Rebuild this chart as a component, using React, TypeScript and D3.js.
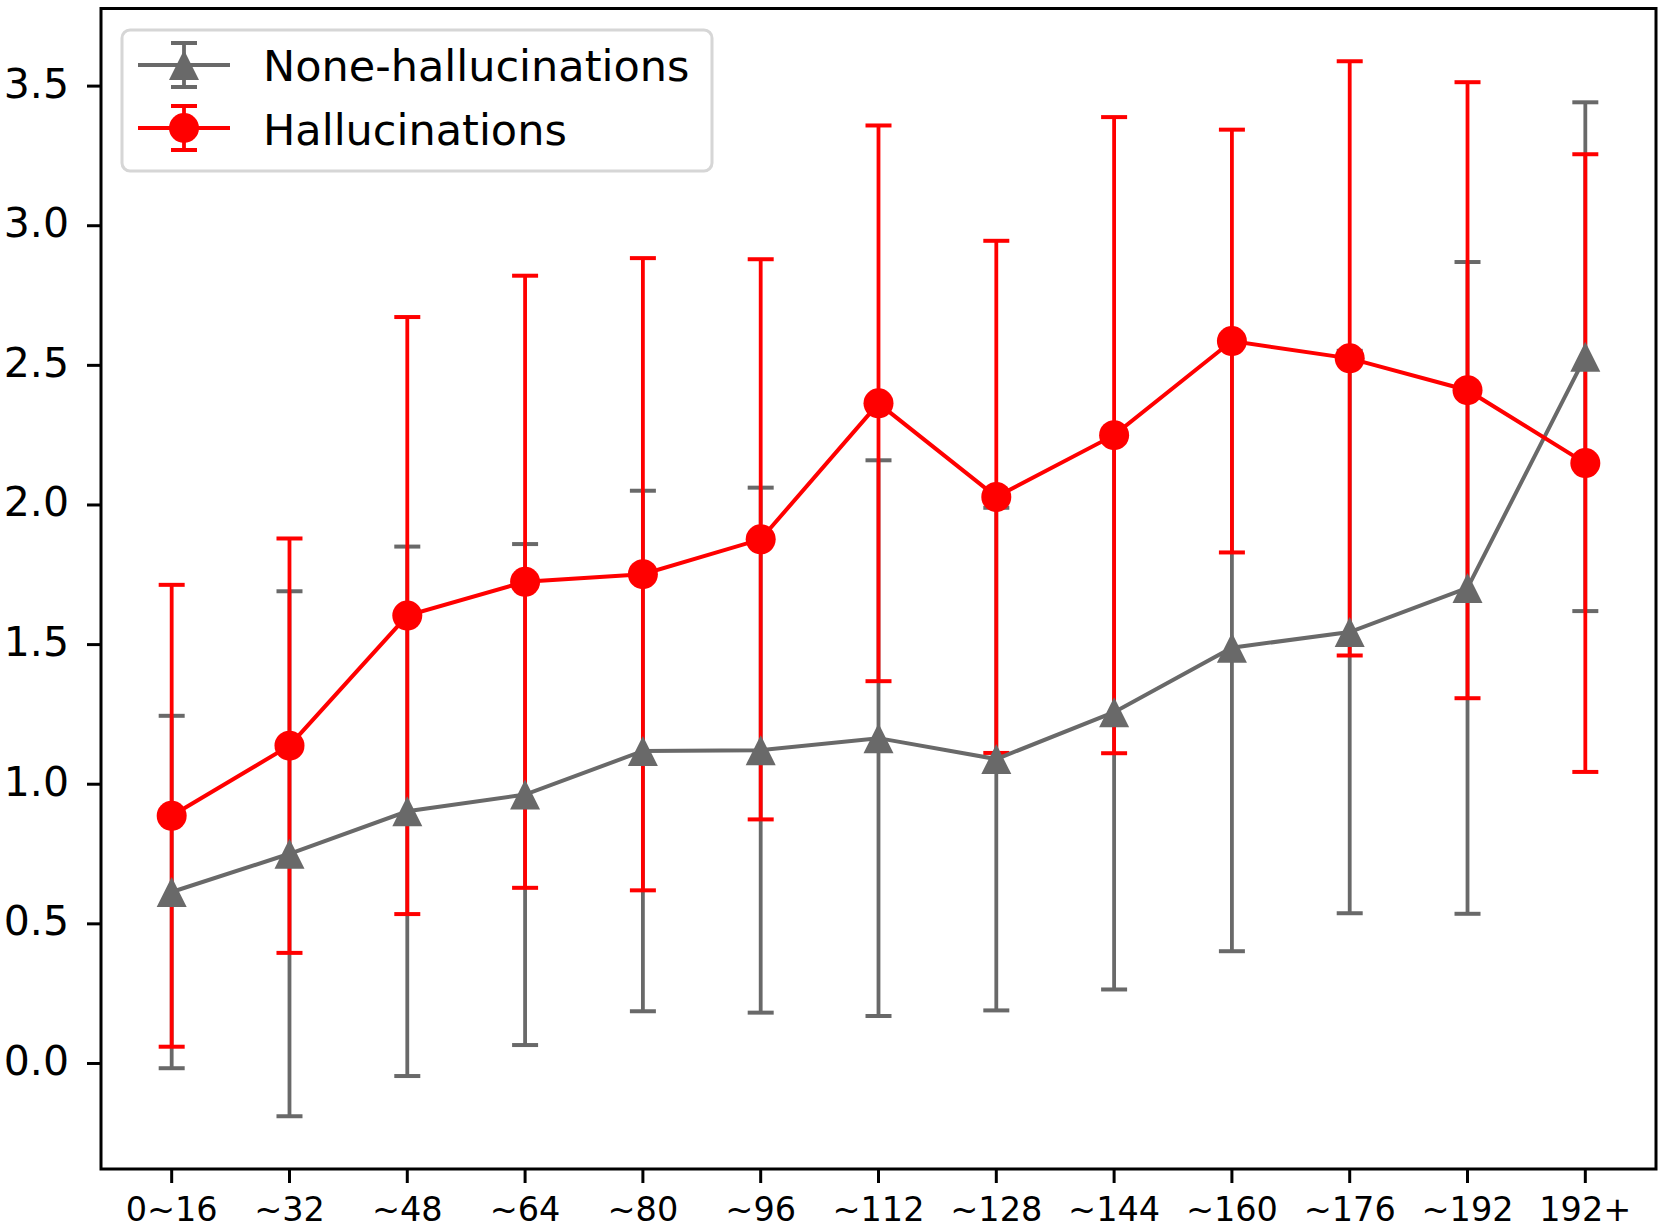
import React from "react";
import * as d3 from "d3";

const categories = ["0~16", "~32", "~48", "~64", "~80", "~96", "~112", "~128", "~144", "~160", "~176", "~192", "192+"];
const noneMean = [0.614, 0.751, 0.903, 0.963, 1.119, 1.122, 1.165, 1.09, 1.258, 1.489, 1.545, 1.703, 2.531];
const noneStd = [0.631, 0.94, 0.948, 0.897, 0.932, 0.94, 0.995, 0.9, 0.993, 1.087, 1.007, 1.167, 0.911];
const halMean = [0.887, 1.138, 1.604, 1.725, 1.752, 1.877, 2.364, 2.029, 2.25, 2.587, 2.525, 2.411, 2.15];
const halStd = [0.827, 0.742, 1.069, 1.096, 1.132, 1.003, 0.995, 0.917, 1.139, 0.757, 1.064, 1.103, 1.106];
const yTicks = [0, 0.5, 1, 1.5, 2, 2.5, 3, 3.5];
const seriesNames = ["None-hallucinations", "Hallucinations"];

const W = 1661;
const H = 1229;
const L = 101, R = 1656, T = 8.5, B = 1169;
const GRAY = "#696969";
const RED = "#ff0000";
const FONT = "DejaVu Sans, sans-serif";

function tri(cx: number, cy: number, s: number) {
  return `M${cx},${cy - s}L${cx - s},${cy + s}L${cx + s},${cy + s}Z`;
}

export default function App() {
  const n = categories.length;
  const x = d3.scaleLinear().domain([-0.6, n - 1 + 0.6]).range([L, R]);
  const lows = [...noneMean.map((m, i) => m - noneStd[i]), ...halMean.map((m, i) => m - halStd[i])];
  const highs = [...noneMean.map((m, i) => m + noneStd[i]), ...halMean.map((m, i) => m + halStd[i])];
  const lo = d3.min(lows)!, hi = d3.max(highs)!;
  const pad = (hi - lo) * 0.05;
  const y = d3.scaleLinear().domain([lo - pad, hi + pad]).range([B, T]);
  const line = d3.line<number>().x((_, i) => x(i)).y((d) => y(d));
  const capW = 13;

  const errBars = (means: number[], stds: number[], color: string, key: string) =>
    means.map((m, i) => (
      <g key={key + i} stroke={color} strokeWidth={3.8}>
        <line x1={x(i)} x2={x(i)} y1={y(m - stds[i])} y2={y(m + stds[i])} />
        <line x1={x(i) - capW} x2={x(i) + capW} y1={y(m - stds[i])} y2={y(m - stds[i])} strokeWidth={4} />
        <line x1={x(i) - capW} x2={x(i) + capW} y1={y(m + stds[i])} y2={y(m + stds[i])} strokeWidth={4} />
      </g>
    ));

  return (
    <svg width={W} height={H} style={{ position: "absolute", left: 0, top: 0, background: "#fff" }} fontFamily={FONT}>
      <rect x={0} y={0} width={W} height={H} fill="#fff" />
      {errBars(noneMean, noneStd, GRAY, "ge")}
      {errBars(halMean, halStd, RED, "re")}
      <path d={line(noneMean)!} fill="none" stroke={GRAY} strokeWidth={4} />
      {noneMean.map((m, i) => (
        <path key={"gm" + i} d={tri(x(i), y(m), 15)} fill={GRAY} />
      ))}
      <path d={line(halMean)!} fill="none" stroke={RED} strokeWidth={4} />
      {halMean.map((m, i) => (
        <circle key={"rm" + i} cx={x(i)} cy={y(m)} r={15} fill={RED} />
      ))}

      {/* axes frame */}
      <rect x={L} y={T} width={R - L} height={B - T} fill="none" stroke="#000" strokeWidth={3} />

      {/* y ticks */}
      {yTicks.map((t) => (
        <g key={"yt" + t}>
          <line x1={L - 14} x2={L} y1={y(t)} y2={y(t)} stroke="#000" strokeWidth={3} />
          <text x={L - 32} y={y(t)} dy="0.28em" textAnchor="end" fontSize={41} fill="#000">
            {t.toFixed(1)}
          </text>
        </g>
      ))}

      {/* x ticks */}
      {categories.map((c, i) => (
        <g key={"xt" + i}>
          <line x1={x(i)} x2={x(i)} y1={B} y2={B + 14} stroke="#000" strokeWidth={3} />
          <text x={x(i)} y={1221} textAnchor="middle" fontSize={33.5} fill="#000">
            {c}
          </text>
        </g>
      ))}

      {/* legend */}
      <rect x={122} y={30} width={590} height={141} rx={8} ry={8} fill="#fff" fillOpacity={0.8} stroke="#d6d6d6" strokeWidth={3} />
      {[0, 1].map((k) => {
        const cy = k === 0 ? 65 : 128;
        const color = k === 0 ? GRAY : RED;
        const cx = 184;
        return (
          <g key={"lg" + k}>
            <g stroke={color}>
              <line x1={cx} x2={cx} y1={cy - 22} y2={cy + 22} strokeWidth={3.8} />
              <line x1={cx - capW} x2={cx + capW} y1={cy - 22} y2={cy - 22} strokeWidth={4} />
              <line x1={cx - capW} x2={cx + capW} y1={cy + 22} y2={cy + 22} strokeWidth={4} />
              <line x1={138} x2={230} y1={cy} y2={cy} strokeWidth={4} />
            </g>
            {k === 0 ? <path d={tri(cx, cy, 15)} fill={GRAY} /> : <circle cx={cx} cy={cy} r={15} fill={RED} />}
            <text x={263} y={k === 0 ? 81 : 145} fontSize={43} fill="#000">
              {seriesNames[k]}
            </text>
          </g>
        );
      })}
    </svg>
  );
}
